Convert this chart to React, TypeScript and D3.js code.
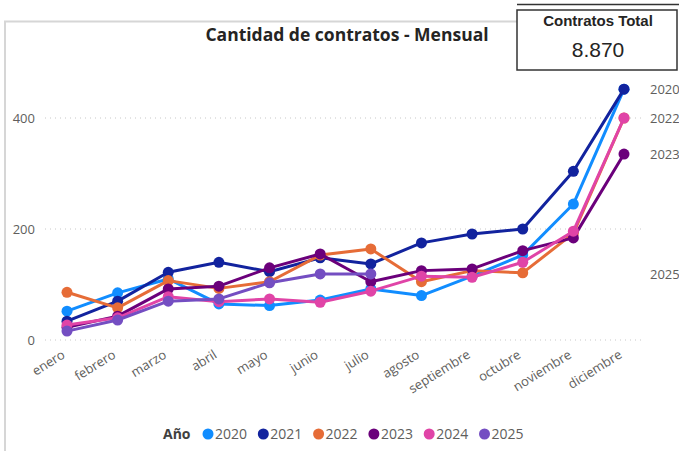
import * as d3 from 'd3';
import React, { useEffect, useRef } from 'react';

const months = ['enero', 'febrero', 'marzo', 'abril', 'mayo', 'junio', 'julio', 'agosto', 'septiembre', 'octubre', 'noviembre', 'diciembre'];
const years = ['2020', '2021', '2022', '2023', '2024', '2025'];
const colors = ['#118DFF', '#12239E', '#E66C37', '#6B007B', '#E044A7', '#744EC2'];

const v2020 = [52, 85, 110, 65, 62, 72, 92, 80, 115, 153, 245, 452];
const v2021 = [34, 70, 122, 140, 123, 148, 137, 175, 191, 200, 304, 452];
const v2022 = [86, 58, 107, 93, 105, 153, 164, 105, 125, 121, 192, 400];
const v2023 = [23, 43, 92, 97, 130, 155, 105, 125, 128, 161, 184, 335];
const v2024 = [27, 40, 78, 69, 74, 68, 88, 115, 113, 140, 196, 400];
const v2025 = [16, 36, 70, 74, 103, 119, 119];

const seriesValues = [v2020, v2021, v2022, v2023, v2024, v2025];
const yTicks = [0, 200, 400];
const totalLabel = 'Contratos Total';
const totalValue = '8.870';
const title = 'Cantidad de contratos - Mensual';

const W = 679;
const H = 451;
const FONT = "'Segoe UI', 'Open Sans', sans-serif";

export default function App() {
    const ref = useRef<SVGSVGElement>(null);

    useEffect(() => {
        const svg = d3.select(ref.current);
        svg.selectAll('*').remove();

        const x = d3.scalePoint<string>().domain(months).range([67, 624]);
        const y = d3.scaleLinear().domain([0, 400]).range([340, 118]);

        // marco del visual
        svg.append('path')
            .attr('d', 'M5,451 L5,21.5 L517,21.5')
            .attr('fill', 'none')
            .attr('stroke', '#d6d6d6')
            .attr('stroke-width', 2);

        svg.append('text')
            .attr('x', 347)
            .attr('y', 41)
            .attr('text-anchor', 'middle')
            .style('font-family', FONT)
            .style('font-weight', 700)
            .style('font-size', '17.5px')
            .attr('fill', '#252423')
            .text(title);

        // lineas de cuadricula
        svg.append('g')
            .selectAll('line')
            .data(yTicks)
            .enter()
            .append('line')
            .attr('x1', 45)
            .attr('x2', 642)
            .attr('y1', d => y(d))
            .attr('y2', d => y(d))
            .attr('stroke', '#c8c8c8')
            .attr('stroke-width', 1)
            .attr('stroke-dasharray', '1,4');

        svg.append('g')
            .selectAll('text')
            .data(yTicks)
            .enter()
            .append('text')
            .attr('x', 35)
            .attr('y', d => y(d) + 5)
            .attr('text-anchor', 'end')
            .style('font-family', FONT)
            .style('font-size', '13px')
            .attr('fill', '#605E5C')
            .text(d => d);

        svg.append('g')
            .selectAll('text')
            .data(months)
            .enter()
            .append('text')
            .attr('transform', d => `translate(${(x(d) as number) - 1},${357}) rotate(-32)`)
            .attr('text-anchor', 'end')
            .style('font-family', FONT)
            .style('font-size', '13px')
            .attr('fill', '#605E5C')
            .text(d => d);

        const line = d3.line<number>()
            .x((d, i) => x(months[i]) as number)
            .y(d => y(d));

        const g = svg.append('g');
        seriesValues.forEach((vals, s) => {
            g.append('path')
                .datum(vals)
                .attr('d', line)
                .attr('fill', 'none')
                .attr('stroke', colors[s])
                .attr('stroke-width', 3)
                .attr('stroke-linejoin', 'round');
            g.selectAll(null)
                .data(vals)
                .enter()
                .append('circle')
                .attr('cx', (d, i) => x(months[i]) as number)
                .attr('cy', d => y(d))
                .attr('r', 5.5)
                .attr('fill', colors[s]);
        });

        // etiquetas al final de cada serie (se ocultan si se solapan)
        const placed: number[] = [];
        seriesValues.forEach((vals, s) => {
            const yy = y(vals[vals.length - 1]);
            if (placed.some(p => Math.abs(p - yy) < 14)) return;
            placed.push(yy);
            svg.append('text')
                .attr('x', 650)
                .attr('y', yy + 5)
                .style('font-family', FONT)
                .style('font-size', '13px')
                .attr('fill', '#605E5C')
                .text(years[s]);
        });

        // leyenda
        const leg = svg.append('g');
        leg.append('text')
            .attr('x', 163)
            .attr('y', 439)
            .style('font-family', FONT)
            .style('font-weight', 700)
            .style('font-size', '14px')
            .attr('fill', '#404040')
            .text('Año');
        years.forEach((yr, i) => {
            const lx = 208 + i * 55.3;
            leg.append('circle')
                .attr('cx', lx)
                .attr('cy', 434)
                .attr('r', 5.5)
                .attr('fill', colors[i]);
            leg.append('text')
                .attr('x', lx + 7)
                .attr('y', 439)
                .style('font-family', FONT)
                .style('font-size', '14px')
                .attr('fill', '#605E5C')
                .text(yr);
        });

        // tarjeta
        svg.append('line')
            .attr('x1', 517)
            .attr('x2', 679)
            .attr('y1', 4.5)
            .attr('y2', 4.5)
            .attr('stroke', '#333')
            .attr('stroke-width', 1.5);
        svg.append('rect')
            .attr('x', 517)
            .attr('y', 10)
            .attr('width', 160)
            .attr('height', 60)
            .attr('fill', '#fff')
            .attr('stroke', '#333')
            .attr('stroke-width', 1.5);
        svg.append('text')
            .attr('x', 598)
            .attr('y', 26)
            .attr('text-anchor', 'middle')
            .style('font-family', "'Liberation Sans', Arial, sans-serif")
            .style('font-weight', 700)
            .style('font-size', '15px')
            .attr('fill', '#252423')
            .text(totalLabel);
        svg.append('text')
            .attr('x', 598)
            .attr('y', 57)
            .attr('text-anchor', 'middle')
            .style('font-family', "'Liberation Sans', Arial, sans-serif")
            .style('font-size', '21px')
            .attr('fill', '#252423')
            .text(totalValue);
    }, []);

    return (
        <svg ref={ref} width={W} height={H} style={{ position: 'fixed', top: 0, left: 0, background: '#fff' }}></svg>
    );
}
